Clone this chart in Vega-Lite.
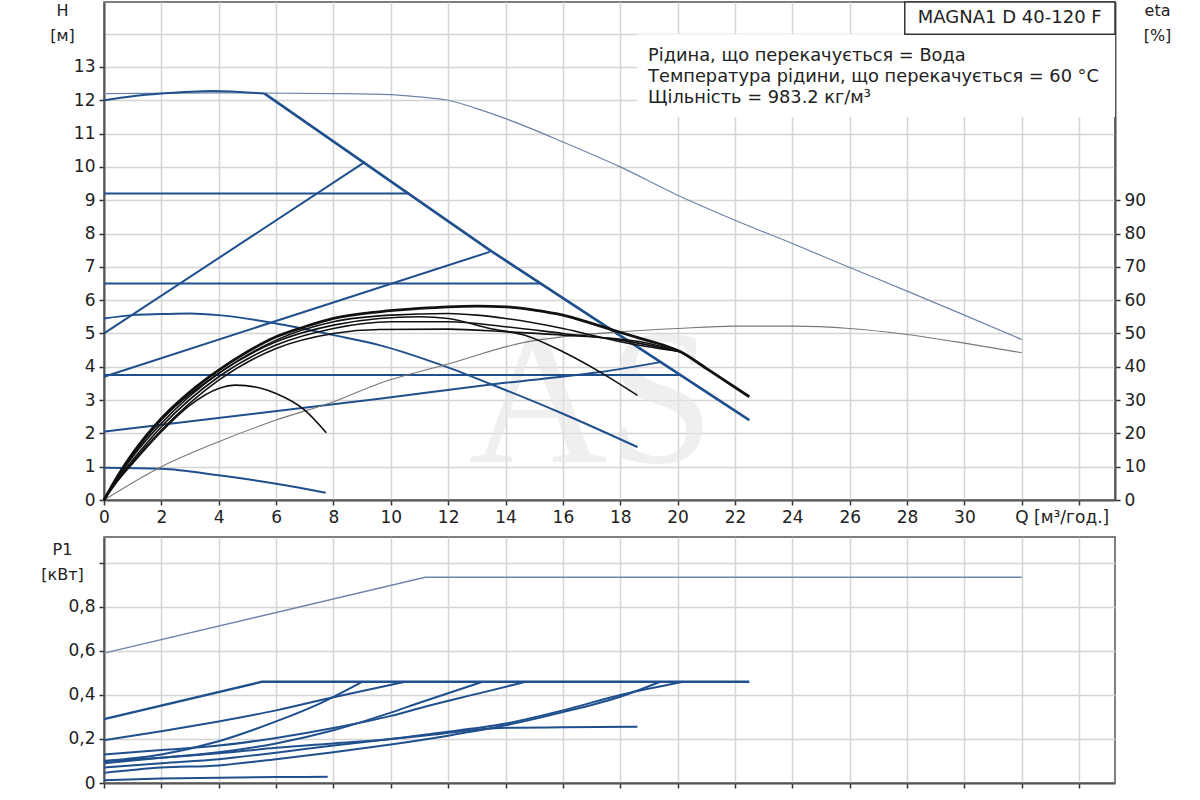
{
  "$schema": "https://vega.github.io/schema/vega-lite/v6.json",
  "padding": {"left": 40, "top": 0, "right": 5, "bottom": 0},
  "background": "white",
  "config": {
    "view": {"stroke": "#555", "strokeWidth": 1.5},
    "axis": {
      "labelFont": "DejaVu Sans", "labelFontSize": 17, "labelColor": "#222",
      "titleFont": "DejaVu Sans", "titleFontSize": 16, "titleFontWeight": "normal", "titleColor": "#222",
      "gridColor": "#d4d4d4", "gridWidth": 1.5,
      "domainColor": "#555", "domainWidth": 2,
      "tickColor": "#333", "tickSize": 5, "tickWidth": 1.5,
      "labelOverlap": false, "labelFlush": false
    },
    "text": {"font": "DejaVu Sans"}
  },
  "datasets": {
    "head": [
      {"curve": "A", "q": 0, "h": 12.2}, {"curve": "A", "q": 4, "h": 12.22}, {"curve": "A", "q": 8, "h": 12.2},
      {"curve": "A", "q": 10, "h": 12.17}, {"curve": "A", "q": 11, "h": 12.1}, {"curve": "A", "q": 12, "h": 12.0},
      {"curve": "A", "q": 13, "h": 11.75}, {"curve": "A", "q": 14, "h": 11.45}, {"curve": "A", "q": 16, "h": 10.75},
      {"curve": "A", "q": 18, "h": 10.0}, {"curve": "A", "q": 20, "h": 9.15}, {"curve": "A", "q": 22, "h": 8.4},
      {"curve": "A", "q": 24, "h": 7.7}, {"curve": "A", "q": 26, "h": 6.98}, {"curve": "A", "q": 28, "h": 6.27},
      {"curve": "A", "q": 30, "h": 5.55}, {"curve": "A", "q": 32, "h": 4.82},
      {"curve": "B1", "q": 0, "h": 12.0}, {"curve": "B1", "q": 1, "h": 12.12}, {"curve": "B1", "q": 2, "h": 12.2},
      {"curve": "B1", "q": 3.8, "h": 12.28}, {"curve": "B1", "q": 5.6, "h": 12.2},
      {"curve": "B2", "q": 5.6, "h": 12.2}, {"curve": "B2", "q": 13.45, "h": 7.5}, {"curve": "B2", "q": 22.5, "h": 2.4},
      {"curve": "C", "q": 0, "h": 5.0}, {"curve": "C", "q": 9.1, "h": 10.15},
      {"curve": "D", "q": 0, "h": 9.2}, {"curve": "D", "q": 10.65, "h": 9.2},
      {"curve": "E", "q": 0, "h": 3.7}, {"curve": "E", "q": 13.45, "h": 7.45},
      {"curve": "F", "q": 0, "h": 6.5}, {"curve": "F", "q": 15.2, "h": 6.5},
      {"curve": "H", "q": 0, "h": 3.75}, {"curve": "H", "q": 20.1, "h": 3.75},
      {"curve": "G", "q": 0, "h": 5.45}, {"curve": "G", "q": 1, "h": 5.55}, {"curve": "G", "q": 2, "h": 5.58},
      {"curve": "G", "q": 3, "h": 5.6}, {"curve": "G", "q": 4, "h": 5.55}, {"curve": "G", "q": 6, "h": 5.3},
      {"curve": "G", "q": 8, "h": 4.95}, {"curve": "G", "q": 9.6, "h": 4.65}, {"curve": "G", "q": 11.8, "h": 4.04},
      {"curve": "G", "q": 13.45, "h": 3.49}, {"curve": "G", "q": 16, "h": 2.59}, {"curve": "G", "q": 18.6, "h": 1.59},
      {"curve": "I", "q": 0, "h": 2.05}, {"curve": "I", "q": 9.6, "h": 3.04}, {"curve": "I", "q": 13.7, "h": 3.49},
      {"curve": "I", "q": 17.3, "h": 3.84}, {"curve": "I", "q": 19.4, "h": 4.14},
      {"curve": "J", "q": 0, "h": 0.97}, {"curve": "J", "q": 2, "h": 0.94}, {"curve": "J", "q": 4, "h": 0.74},
      {"curve": "J", "q": 6, "h": 0.49}, {"curve": "J", "q": 7.73, "h": 0.22}
    ],
    "eta": [
      {"curve": "K1", "q": 0, "eta": 0}, {"curve": "K1", "q": 0.5, "eta": 7.5}, {"curve": "K1", "q": 1, "eta": 14},
      {"curve": "K1", "q": 2, "eta": 24.5}, {"curve": "K1", "q": 3, "eta": 32.5}, {"curve": "K1", "q": 4, "eta": 39},
      {"curve": "K1", "q": 5, "eta": 44.5}, {"curve": "K1", "q": 6, "eta": 49}, {"curve": "K1", "q": 7, "eta": 52},
      {"curve": "K1", "q": 8, "eta": 54.5}, {"curve": "K1", "q": 9.6, "eta": 56.5}, {"curve": "K1", "q": 11, "eta": 57.5},
      {"curve": "K1", "q": 12, "eta": 58}, {"curve": "K1", "q": 13, "eta": 58.2}, {"curve": "K1", "q": 14, "eta": 58},
      {"curve": "K1", "q": 15, "eta": 57}, {"curve": "K1", "q": 16, "eta": 55.5}, {"curve": "K1", "q": 17, "eta": 53},
      {"curve": "K1", "q": 17.75, "eta": 51}, {"curve": "K1", "q": 18.7, "eta": 48.5}, {"curve": "K1", "q": 19.5, "eta": 46.5},
      {"curve": "K1", "q": 20.1, "eta": 44.5}, {"curve": "K1", "q": 21, "eta": 39.5}, {"curve": "K1", "q": 22.5, "eta": 31},
      {"curve": "K5", "q": 0, "eta": 0}, {"curve": "K5", "q": 0.5, "eta": 7.2}, {"curve": "K5", "q": 1, "eta": 13.5},
      {"curve": "K5", "q": 2, "eta": 24}, {"curve": "K5", "q": 4, "eta": 38}, {"curve": "K5", "q": 6, "eta": 48},
      {"curve": "K5", "q": 8, "eta": 53.5}, {"curve": "K5", "q": 10, "eta": 55.5}, {"curve": "K5", "q": 12, "eta": 56},
      {"curve": "K5", "q": 13, "eta": 55.5}, {"curve": "K5", "q": 14, "eta": 54.5}, {"curve": "K5", "q": 16, "eta": 51.5},
      {"curve": "K5", "q": 18, "eta": 47.5}, {"curve": "K5", "q": 20.1, "eta": 44.5},
      {"curve": "K2", "q": 0, "eta": 0}, {"curve": "K2", "q": 0.5, "eta": 7}, {"curve": "K2", "q": 1, "eta": 13},
      {"curve": "K2", "q": 2, "eta": 23}, {"curve": "K2", "q": 4, "eta": 38}, {"curve": "K2", "q": 6, "eta": 47.5},
      {"curve": "K2", "q": 8, "eta": 52.5}, {"curve": "K2", "q": 9.6, "eta": 54.5}, {"curve": "K2", "q": 11, "eta": 55},
      {"curve": "K2", "q": 12, "eta": 54.5}, {"curve": "K2", "q": 13.45, "eta": 51.5}, {"curve": "K2", "q": 14.7, "eta": 49.4},
      {"curve": "K2", "q": 16, "eta": 44.5}, {"curve": "K2", "q": 17.3, "eta": 38.4}, {"curve": "K2", "q": 18.6, "eta": 31.4},
      {"curve": "K6", "q": 0, "eta": 0}, {"curve": "K6", "q": 0.5, "eta": 6.5}, {"curve": "K6", "q": 1, "eta": 12},
      {"curve": "K6", "q": 2, "eta": 22}, {"curve": "K6", "q": 4, "eta": 37}, {"curve": "K6", "q": 6, "eta": 46.5},
      {"curve": "K6", "q": 8, "eta": 51.5}, {"curve": "K6", "q": 10, "eta": 53.5}, {"curve": "K6", "q": 12, "eta": 53.5},
      {"curve": "K6", "q": 14, "eta": 52}, {"curve": "K6", "q": 16, "eta": 50}, {"curve": "K6", "q": 18, "eta": 48},
      {"curve": "K6", "q": 19, "eta": 46.5}, {"curve": "K6", "q": 20.1, "eta": 44.5},
      {"curve": "K4", "q": 0, "eta": 0}, {"curve": "K4", "q": 0.5, "eta": 6.2}, {"curve": "K4", "q": 1, "eta": 11.5},
      {"curve": "K4", "q": 2, "eta": 21}, {"curve": "K4", "q": 4, "eta": 36}, {"curve": "K4", "q": 6, "eta": 45.5},
      {"curve": "K4", "q": 8, "eta": 50}, {"curve": "K4", "q": 9.6, "eta": 51.2}, {"curve": "K4", "q": 12, "eta": 51.3},
      {"curve": "K4", "q": 14, "eta": 50.5}, {"curve": "K4", "q": 16, "eta": 49.5}, {"curve": "K4", "q": 18.7, "eta": 47.5},
      {"curve": "K4", "q": 20.1, "eta": 44.5},
      {"curve": "K3", "q": 0, "eta": 0}, {"curve": "K3", "q": 0.5, "eta": 6}, {"curve": "K3", "q": 1, "eta": 11},
      {"curve": "K3", "q": 2, "eta": 20.5}, {"curve": "K3", "q": 3, "eta": 28.5}, {"curve": "K3", "q": 4, "eta": 33.5},
      {"curve": "K3", "q": 4.6, "eta": 34.5}, {"curve": "K3", "q": 5.5, "eta": 33.5}, {"curve": "K3", "q": 6, "eta": 32},
      {"curve": "K3", "q": 7, "eta": 27}, {"curve": "K3", "q": 7.75, "eta": 20.2},
      {"curve": "M", "q": 0, "eta": 0}, {"curve": "M", "q": 2, "eta": 10}, {"curve": "M", "q": 4, "eta": 17.5},
      {"curve": "M", "q": 6, "eta": 24}, {"curve": "M", "q": 8, "eta": 29.5}, {"curve": "M", "q": 9.6, "eta": 35},
      {"curve": "M", "q": 12, "eta": 40.8}, {"curve": "M", "q": 14.7, "eta": 47.4}, {"curve": "M", "q": 16, "eta": 49},
      {"curve": "M", "q": 18, "eta": 50.5}, {"curve": "M", "q": 20, "eta": 51.5}, {"curve": "M", "q": 22, "eta": 52.2},
      {"curve": "M", "q": 24, "eta": 52.2}, {"curve": "M", "q": 26, "eta": 51.5}, {"curve": "M", "q": 28, "eta": 49.7},
      {"curve": "M", "q": 30, "eta": 47.1}, {"curve": "M", "q": 32, "eta": 44.2}
    ],
    "power": [
      {"curve": "PB", "q": 0, "p": 0.29}, {"curve": "PB", "q": 5.5, "p": 0.46}, {"curve": "PB", "q": 22.5, "p": 0.46},
      {"curve": "PM", "q": 0, "p": 0.59}, {"curve": "PM", "q": 11.2, "p": 0.935}, {"curve": "PM", "q": 32, "p": 0.935},
      {"curve": "PC", "q": 0, "p": 0.10}, {"curve": "PC", "q": 2, "p": 0.13}, {"curve": "PC", "q": 4, "p": 0.19},
      {"curve": "PC", "q": 6, "p": 0.28}, {"curve": "PC", "q": 7.5, "p": 0.36}, {"curve": "PC", "q": 9.0, "p": 0.46},
      {"curve": "PD", "q": 0, "p": 0.195}, {"curve": "PD", "q": 2, "p": 0.235}, {"curve": "PD", "q": 4, "p": 0.28},
      {"curve": "PD", "q": 6, "p": 0.33}, {"curve": "PD", "q": 8, "p": 0.39}, {"curve": "PD", "q": 10.5, "p": 0.46},
      {"curve": "PE", "q": 0, "p": 0.09}, {"curve": "PE", "q": 2, "p": 0.115}, {"curve": "PE", "q": 4, "p": 0.14},
      {"curve": "PE", "q": 6, "p": 0.18}, {"curve": "PE", "q": 8, "p": 0.24}, {"curve": "PE", "q": 10, "p": 0.32},
      {"curve": "PE", "q": 11, "p": 0.365}, {"curve": "PE", "q": 13.2, "p": 0.46},
      {"curve": "PF", "q": 0, "p": 0.13}, {"curve": "PF", "q": 2, "p": 0.15}, {"curve": "PF", "q": 4, "p": 0.17},
      {"curve": "PF", "q": 6, "p": 0.205}, {"curve": "PF", "q": 8, "p": 0.25}, {"curve": "PF", "q": 10, "p": 0.305},
      {"curve": "PF", "q": 11, "p": 0.34}, {"curve": "PF", "q": 13, "p": 0.405}, {"curve": "PF", "q": 14.7, "p": 0.46},
      {"curve": "PG", "q": 0, "p": 0.07}, {"curve": "PG", "q": 2, "p": 0.09}, {"curve": "PG", "q": 4, "p": 0.108},
      {"curve": "PG", "q": 6, "p": 0.138}, {"curve": "PG", "q": 8, "p": 0.17}, {"curve": "PG", "q": 10, "p": 0.2},
      {"curve": "PG", "q": 11.5, "p": 0.22}, {"curve": "PG", "q": 13.8, "p": 0.25}, {"curve": "PG", "q": 18.6, "p": 0.256},
      {"curve": "PH", "q": 0, "p": 0.10}, {"curve": "PH", "q": 2, "p": 0.115}, {"curve": "PH", "q": 4, "p": 0.135},
      {"curve": "PH", "q": 6, "p": 0.16}, {"curve": "PH", "q": 8, "p": 0.18}, {"curve": "PH", "q": 10, "p": 0.2},
      {"curve": "PH", "q": 11.5, "p": 0.225}, {"curve": "PH", "q": 14, "p": 0.27}, {"curve": "PH", "q": 16, "p": 0.33},
      {"curve": "PH", "q": 18, "p": 0.40}, {"curve": "PH", "q": 20.2, "p": 0.46},
      {"curve": "PI", "q": 0, "p": 0.046}, {"curve": "PI", "q": 2, "p": 0.07}, {"curve": "PI", "q": 4, "p": 0.08},
      {"curve": "PI", "q": 6, "p": 0.108}, {"curve": "PI", "q": 8, "p": 0.14}, {"curve": "PI", "q": 10, "p": 0.175},
      {"curve": "PI", "q": 12, "p": 0.215}, {"curve": "PI", "q": 14, "p": 0.262}, {"curve": "PI", "q": 16, "p": 0.322},
      {"curve": "PI", "q": 18, "p": 0.392}, {"curve": "PI", "q": 19.4, "p": 0.46},
      {"curve": "PJ", "q": 0, "p": 0.012}, {"curve": "PJ", "q": 2, "p": 0.02}, {"curve": "PJ", "q": 4, "p": 0.024},
      {"curve": "PJ", "q": 6, "p": 0.027}, {"curve": "PJ", "q": 7.8, "p": 0.028}
    ],
    "notes": [
      {"kind": "mark", "label": "AS", "q": 17.0, "h": 1.15},
      {"kind": "model", "label": "MAGNA1 D 40-120 F", "q": 31.58, "h": 14.33},
      {"kind": "info", "label": "Рідина, що перекачується = Вода", "q": 18.97, "h": 13.19},
      {"kind": "info", "label": "Температура рідини, що перекачується = 60 °C", "q": 18.97, "h": 12.56},
      {"kind": "info", "label": "Щільність = 983.2 кг/м³", "q": 18.97, "h": 11.92}
    ],
    "boxes": [
      {"name": "info", "q": 18.6, "q2": 35.25, "h": 11.5, "h2": 13.98},
      {"name": "model", "q": 27.92, "q2": 35.25, "h": 13.98, "h2": 14.95}
    ]
  },
  "spacing": 37,
  "bounds": "flush",
  "vconcat": [
    {
      "width": 1011,
      "height": 498,
      "encoding": {
        "x": {
          "field": "q", "type": "quantitative",
          "scale": {"domain": [0, 35.25], "nice": false, "zero": false},
          "axis": {
            "title": null,
            "values": [0, 2, 4, 6, 8, 10, 12, 14, 16, 18, 20, 22, 24, 26, 28, 30, 32, 34],
            "labelExpr": "datum.value == 32 ? 'Q [м³/год.]' : (datum.value > 32 ? '' : datum.label)",
            "labelAlign": {"condition": {"test": "datum.value == 32", "value": "left"}, "value": "center"},
            "labelOffset": {"condition": {"test": "datum.value == 32", "value": -7}, "value": 0},
            "labelPadding": 4
          }
        }
      },
      "layer": [
        {
          "encoding": {
            "y": {
              "field": "h", "type": "quantitative",
              "scale": {"domain": [0, 14.95], "nice": false},
              "axis": {
                "values": [0, 1, 2, 3, 4, 5, 6, 7, 8, 9, 10, 11, 12, 13, 14],
                "labelExpr": "datum.value > 13 ? '' : datum.label",
                "tickOpacity": {"condition": {"test": "datum.value > 13", "value": 0}, "value": 1},
                "labelPadding": 4,
                "title": ["H", "[м]"],
                "titleAngle": 0, "titleAlign": "center", "titleBaseline": "top",
                "titleX": -42, "titleY": 0, "titleLineHeight": 25
              }
            }
          },
          "layer": [
            {
              "data": {"name": "notes"},
              "transform": [{"filter": "datum.kind == 'mark'"}],
              "mark": {"type": "text", "font": "Liberation Serif", "fontSize": 192, "align": "center", "baseline": "alphabetic", "color": "#e6e6e6", "opacity": 0.6},
              "encoding": {"text": {"field": "label"}}
            },
            {
              "data": {"name": "boxes"},
              "transform": [{"filter": "datum.name == 'info'"}],
              "mark": {"type": "rect", "fill": "white", "strokeWidth": 0},
              "encoding": {"x2": {"field": "q2"}, "y2": {"field": "h2"}}
            },
            {
              "data": {"name": "boxes"},
              "transform": [{"filter": "datum.name == 'model'"}],
              "mark": {"type": "rect", "fill": "white", "stroke": "#333", "strokeWidth": 1.5},
              "encoding": {"x2": {"field": "q2"}, "y2": {"field": "h2"}}
            },
            {
              "data": {"name": "notes"},
              "transform": [{"filter": "datum.kind == 'model'"}],
              "mark": {"type": "text", "fontSize": 18, "align": "center", "baseline": "alphabetic", "color": "#222"},
              "encoding": {"text": {"field": "label"}}
            },
            {
              "data": {"name": "notes"},
              "transform": [{"filter": "datum.kind == 'info'"}],
              "mark": {"type": "text", "fontSize": 17.8, "align": "left", "baseline": "alphabetic", "color": "#222"},
              "encoding": {"text": {"field": "label"}}
            },
            {
              "data": {"name": "head"},
              "transform": [{"filter": "datum.curve == 'A'"}],
              "mark": {"type": "line", "color": "#6c85a8", "strokeWidth": 1.2, "interpolate": "monotone"},
              "encoding": {"detail": {"field": "curve"}}
            },
            {
              "data": {"name": "head"},
              "transform": [{"filter": "indexof(['B2','C','D','E','F','H'], datum.curve) >= 0"}],
              "mark": {"type": "line", "color": "#1f4f8c", "interpolate": "linear"},
              "encoding": {
                "detail": {"field": "curve"},
                "strokeWidth": {"condition": {"test": "datum.curve == 'B2'", "value": 2.6}, "value": 2}
              }
            },
            {
              "data": {"name": "head"},
              "transform": [{"filter": "indexof(['B1','G','I','J'], datum.curve) >= 0"}],
              "mark": {"type": "line", "color": "#1f4f8c", "strokeWidth": 2, "interpolate": "monotone"},
              "encoding": {"detail": {"field": "curve"}}
            }
          ]
        },
        {
          "data": {"name": "eta"},
          "encoding": {
            "y": {
              "field": "eta", "type": "quantitative",
              "scale": {"domain": [0, 149.5], "nice": false},
              "axis": {
                "orient": "right", "grid": false,
                "values": [0, 10, 20, 30, 40, 50, 60, 70, 80, 90],
                "labelPadding": 4,
                "title": ["eta", "[%]"],
                "titleAngle": 0, "titleAlign": "center", "titleBaseline": "top",
                "titleX": 42, "titleY": 0, "titleLineHeight": 25
              }
            }
          },
          "layer": [
            {
              "transform": [{"filter": "datum.curve == 'M'"}],
              "mark": {"type": "line", "color": "#777", "strokeWidth": 1.1, "interpolate": "monotone"},
              "encoding": {"detail": {"field": "curve"}}
            },
            {
              "transform": [{"filter": "datum.curve != 'M'"}],
              "mark": {"type": "line", "color": "#111", "interpolate": "monotone"},
              "encoding": {
                "detail": {"field": "curve"},
                "strokeWidth": {"condition": {"test": "datum.curve == 'K1'", "value": 2.8}, "value": 1.6}
              }
            }
          ]
        }
      ],
      "resolve": {"scale": {"y": "independent"}, "axis": {"y": "independent"}}
    },
    {
      "width": 1011,
      "height": 246,
      "data": {"name": "power"},
      "encoding": {
        "x": {
          "field": "q", "type": "quantitative",
          "scale": {"domain": [0, 35.25], "nice": false, "zero": false},
          "axis": {"title": null, "labels": false, "values": [0, 2, 4, 6, 8, 10, 12, 14, 16, 18, 20, 22, 24, 26, 28, 30, 32, 34]}
        },
        "y": {
          "field": "p", "type": "quantitative",
          "scale": {"domain": [0, 1.118], "nice": false},
          "axis": {
            "values": [0, 0.2, 0.4, 0.6, 0.8, 1.0],
            "labelExpr": "datum.value == 0 ? '0' : (datum.value > 0.9 ? '' : replace(format(datum.value, '.1f'), '.', ','))",
            "labelPadding": 4,
            "title": ["P1", "[кВт]"],
            "titleAngle": 0, "titleAlign": "center", "titleBaseline": "top",
            "titleX": -42, "titleY": 4, "titleLineHeight": 25
          }
        },
        "detail": {"field": "curve"}
      },
      "layer": [
        {
          "transform": [{"filter": "datum.curve == 'PM'"}],
          "mark": {"type": "line", "color": "#6c85a8", "strokeWidth": 1.3, "interpolate": "linear"}
        },
        {
          "transform": [{"filter": "datum.curve == 'PB'"}],
          "mark": {"type": "line", "color": "#1f4f8c", "strokeWidth": 2.4, "interpolate": "linear"}
        },
        {
          "transform": [{"filter": "datum.curve != 'PM' && datum.curve != 'PB'"}],
          "mark": {"type": "line", "color": "#1f4f8c", "strokeWidth": 2, "interpolate": "monotone"}
        }
      ]
    }
  ]
}
